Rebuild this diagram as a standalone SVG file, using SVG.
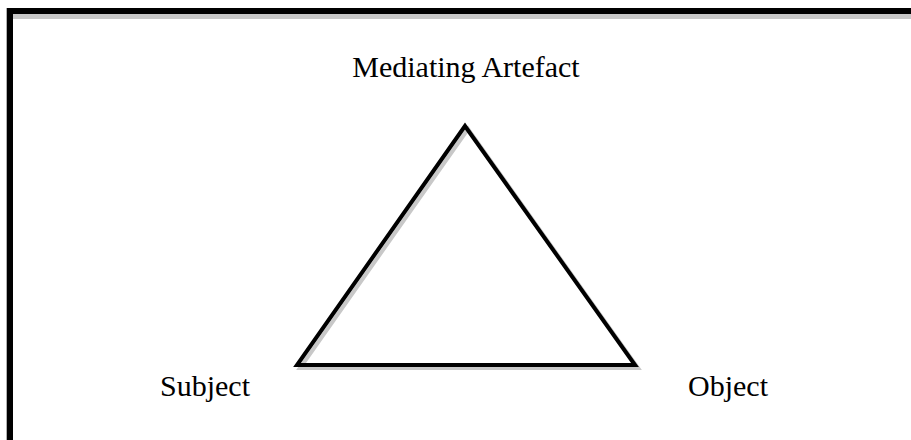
<svg xmlns="http://www.w3.org/2000/svg" width="911" height="440" viewBox="0 0 911 440">
<style>
.lbl{font-family:"Liberation Serif","Times New Roman",serif;font-size:30px;fill:#000}
.tri{fill:none;stroke-width:4;stroke-linejoin:miter}
</style>
<rect width="911" height="440" fill="#fff"/>
<g id="frame">
<rect x="12" y="14" width="905" height="5" fill="#c8c8c8"/>
<rect x="7" y="8" width="910" height="6" fill="#000"/>
<rect x="7" y="8" width="6" height="440" fill="#000"/>
<rect x="6" y="8" width="1" height="440" fill="#b0b0b0"/>
</g>
<g id="connectors">
<polygon class="tri" points="468,129 300,368 638,368" stroke="#c8c8c8"/>
<polygon class="tri" points="465,126 297,365 635,365" stroke="#000"/>
</g>
<g id="node-mediating"><text class="lbl" x="466" y="77" text-anchor="middle">Mediating Artefact</text></g>
<g id="node-subject"><text class="lbl" x="160" y="396">Subject</text></g>
<g id="node-object"><text class="lbl" x="688" y="396">Object</text></g>
</svg>
